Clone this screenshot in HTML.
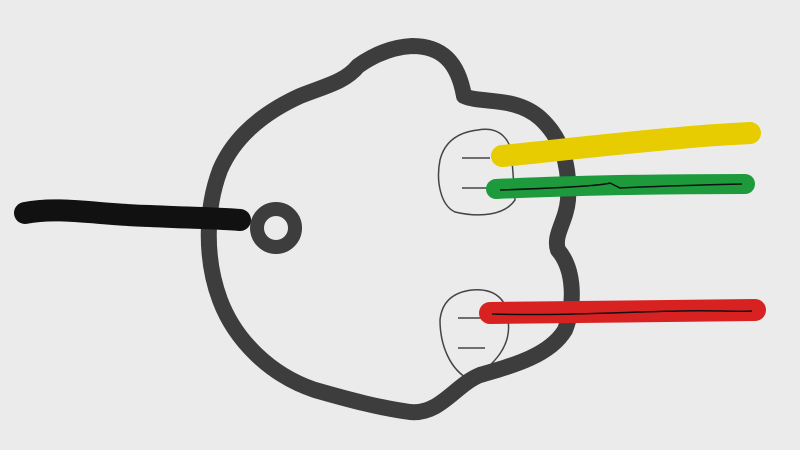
<!DOCTYPE html>
<html><head><meta charset="utf-8"><style>
html,body{margin:0;padding:0;background:#ebebeb;}
svg{display:block}
</style></head><body>
<svg width="800" height="450" viewBox="0 0 800 450" xmlns="http://www.w3.org/2000/svg">
<rect width="800" height="450" fill="#ebebeb"/>
<path d="M478,130 C500,126 512,140 512,160 L515,200 C505,215 480,218 455,212 C440,205 436,180 440,160 C445,140 460,132 478,130 Z" fill="none" stroke="#444" stroke-width="1.5"/>
<line x1="462" y1="158" x2="490" y2="158" stroke="#444" stroke-width="1.5"/>
<line x1="462" y1="188" x2="488" y2="188" stroke="#444" stroke-width="1.5"/>
<path d="M472,290 C495,288 508,300 508,320 C512,345 495,365 470,380 C450,370 440,345 440,320 C442,300 455,292 472,290 Z" fill="none" stroke="#444" stroke-width="1.5"/>
<line x1="458" y1="318" x2="485" y2="318" stroke="#444" stroke-width="1.5"/>
<line x1="458" y1="348" x2="485" y2="348" stroke="#444" stroke-width="1.5"/>
<path d="M412,46 C442,46 458,62 464,96 C482,104 515,96 540,118 C562,138 570,165 568,200 C566,222 553,235 558,250 C575,270 575,305 565,330 C550,355 515,365 480,375 C455,385 440,415 410,412 C380,408 350,400 315,390 C270,375 235,340 220,300 C205,260 205,210 220,170 C235,135 265,112 300,96 C325,86 345,82 358,66 C375,54 392,47 412,46 Z" fill="none" stroke="#3d3d3d" stroke-width="16" stroke-linejoin="round"/>
<circle cx="276" cy="228" r="19" fill="none" stroke="#3d3d3d" stroke-width="14"/>
<path d="M25,213 C60,206 100,215 150,216 C190,218 215,218 240,220" fill="none" stroke="#111" stroke-width="22" stroke-linecap="round"/>
<path d="M502,156 C560,150 620,143 680,138 C710,135 735,134 750,133" fill="none" stroke="#e6cc00" stroke-width="22" stroke-linecap="round"/>
<path d="M496,189 C560,186 650,184 745,184" fill="none" stroke="#1c9a3c" stroke-width="20" stroke-linecap="round"/>
<path d="M500,190 C560,188 600,186 610,183 L620,188 C660,186 700,185 742,184" fill="none" stroke="#111" stroke-width="1.5"/>
<path d="M490,313 C560,312 650,311 755,310" fill="none" stroke="#d82222" stroke-width="22" stroke-linecap="round"/>
<path d="M492,314 C560,316 620,312 680,311 C710,310 735,312 752,311" fill="none" stroke="#111" stroke-width="1.5"/>
</svg>
</body></html>
